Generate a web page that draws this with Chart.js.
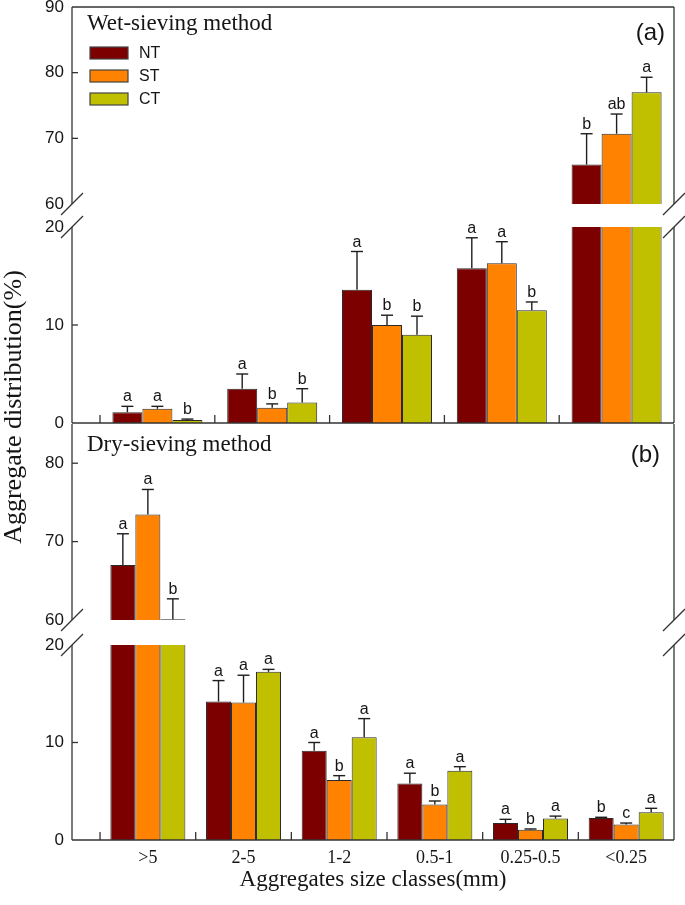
<!DOCTYPE html>
<html>
<head>
<meta charset="utf-8">
<title>Aggregate distribution</title>
<script src="https://cdn.jsdelivr.net/npm/chart.js@4.4.1/dist/chart.umd.min.js"></script>
<style>
  html, body { margin: 0; padding: 0; background: #fff; }
  #wrap { position: relative; width: 685px; height: 905px; overflow: hidden; background: #fff; }
  #wrap canvas { position: absolute; left: 0; top: 0; }
</style>
</head>
<body>
<div id="wrap">
  <canvas id="wet-top" width="685" height="905"></canvas>
  <canvas id="wet-low" width="685" height="905"></canvas>
  <canvas id="dry-top" width="685" height="905"></canvas>
  <canvas id="dry-low" width="685" height="905"></canvas>
</div>
<script>
// ============================================================
// Data
// ============================================================
const series = ['NT', 'ST', 'CT'];
const seriesColors = ['#7d0000', '#ff8200', '#c0c000'];

// (a) wet sieving, 5 size classes (axis carries no labels)
const wetClasses = ['>2', '1-2', '0.5-1', '0.25-0.5', '<0.25'];
const wetNT = [1.1, 3.5, 13.6, 15.8, 66.0];
const wetST = [1.45, 1.55, 10.0, 16.3, 70.7];
const wetCT = [0.3, 2.1, 9.0, 11.5, 77.0];
const wetNTsd = [0.6, 1.5, 3.9, 3.1, 4.7];
const wetSTsd = [0.25, 0.4, 1.0, 2.2, 3.0];
const wetCTsd = [0.1, 1.4, 1.9, 0.85, 2.3];
const wetNTsig = ['a', 'a', 'a', 'a', 'b'];
const wetSTsig = ['a', 'b', 'b', 'a', 'ab'];
const wetCTsig = ['b', 'b', 'b', 'b', 'a'];

// (b) dry sieving, 6 size classes
const dryClasses = ['>5', '2-5', '1-2', '0.5-1', '0.25-0.5', '<0.25'];
const dryNT = [67.0, 14.2, 9.15, 5.8, 1.75, 2.25];
const dryST = [73.45, 14.1, 6.15, 3.65, 1.05, 1.6];
const dryCT = [60.1, 17.25, 10.55, 7.1, 2.2, 2.85];
const dryNTsd = [4.0, 2.15, 0.85, 1.05, 0.37, 0.08];
const drySTsd = [3.2, 2.8, 0.45, 0.35, 0.08, 0.14];
const dryCTsd = [2.6, 0.25, 1.9, 0.42, 0.25, 0.4];
const dryNTsig = ['a', 'a', 'a', 'a', 'a', 'b'];
const drySTsig = ['a', 'a', 'b', 'b', 'b', 'c'];
const dryCTsig = ['b', 'a', 'a', 'a', 'a', 'a'];

// broken y axes: each panel has an upper and a lower segment
const wetUpperTicks = [60, 70, 80, 90];
const wetLowerTicks = [0, 10, 20];
const dryUpperTicks = [60, 70, 80];
const dryLowerTicks = [0, 10, 20];
const dryUpperMax = 85;

const yTitle = 'Aggregate distribution(%)';
const xTitle = 'Aggregates size classes(mm)';

// ============================================================
// Helpers
// ============================================================
const SERIF = '"Liberation Serif", "Times New Roman", serif';
const SANS = '"Liberation Sans", Arial, sans-serif';
const INK = '#151515';
const AXIS = '#333';

function line(ctx, x1, y1, x2, y2) {
  ctx.beginPath();
  ctx.moveTo(x1, y1);
  ctx.lineTo(x2, y2);
  ctx.stroke();
}

// ============================================================
// Plugin: error bars, letters, frame, breaks, extra text
// ============================================================
const segmentPlugin = {
  id: 'segment',
  afterDatasetsDraw(chart, args, o) {
    const ctx = chart.ctx;
    const a = chart.chartArea;
    const xs = chart.scales.x;
    const ys = chart.scales.y;
    ctx.save();

    // error bars (upper side only) + significance letters
    chart.data.datasets.forEach((ds, s) => {
      chart.getDatasetMeta(s).data.forEach((bar, i) => {
        const v = ds.data[i];
        const top = v + ds.sd[i];
        if (v < ys.min || top > ys.max) return;
        const py = ys.getPixelForValue(v);
        const pt = ys.getPixelForValue(top);
        ctx.strokeStyle = '#1e1e1e';
        ctx.lineWidth = 1.4;
        line(ctx, bar.x, py, bar.x, pt);
        line(ctx, bar.x - 6, pt, bar.x + 6, pt);
        ctx.fillStyle = INK;
        ctx.font = '16px ' + SANS;
        ctx.textAlign = 'center';
        ctx.textBaseline = 'alphabetic';
        ctx.fillText(ds.sig[i], bar.x, pt - 5);
      });
    });

    // frame
    ctx.strokeStyle = AXIS;
    ctx.lineWidth = 1.3;
    line(ctx, a.left, a.top, a.left, a.bottom);
    line(ctx, a.right, a.top, a.right, a.bottom);
    if (o.frameTop) line(ctx, a.left, a.top, a.right, a.top);
    if (o.frameBottom) {
      line(ctx, a.left, a.bottom, a.right, a.bottom);
      // inward ticks between size classes
      for (let i = 0; i < chart.data.labels.length; i++) {
        const px = xs.getPixelForValue(i - 0.5);
        line(ctx, px, a.bottom, px, a.bottom - 8);
      }
    }
    // inward y ticks
    ys.ticks.forEach(t => {
      if (t.value > ys.min && t.value < ys.max) {
        const py = ys.getPixelForValue(t.value);
        line(ctx, a.left, py, a.left + 6, py);
      }
    });
    // break marks
    const yb = o.breakAt === 'bottom' ? a.bottom : a.top;
    [a.left, a.right].forEach(xb => line(ctx, xb - 11, yb + 11, xb + 11, yb - 11));

    // legend
    if (o.legend) {
      chart.data.datasets.forEach((ds, s) => {
        const by = 47 + s * 23;
        ctx.fillStyle = ds.backgroundColor;
        ctx.fillRect(90, by, 38, 12);
        ctx.strokeStyle = '#444';
        ctx.lineWidth = 1.2;
        ctx.strokeRect(90, by, 38, 12);
        ctx.fillStyle = INK;
        ctx.font = '16px ' + SANS;
        ctx.textAlign = 'left';
        ctx.textBaseline = 'middle';
        ctx.fillText(ds.label, 139, by + 6.5);
      });
    }

    // free text
    (o.notes || []).forEach(n => {
      ctx.save();
      ctx.fillStyle = INK;
      ctx.font = n.font;
      ctx.textAlign = n.align || 'left';
      ctx.textBaseline = 'alphabetic';
      ctx.translate(n.x, n.y);
      if (n.rotate) ctx.rotate(n.rotate);
      ctx.fillText(n.text, 0, 0);
      ctx.restore();
    });

    ctx.restore();
  }
};

// ============================================================
// One chart per axis segment
// ============================================================
function makeSegment(id, o) {
  const showX = !!o.showX;
  const xAxisH = 54;
  return new Chart(document.getElementById(id), {
    type: 'bar',
    data: {
      labels: o.classes.map((_, i) => i),
      datasets: series.map((name, s) => ({
        label: name,
        data: o.values[s],
        sd: o.sd[s],
        sig: o.sig[s],
        backgroundColor: seriesColors[s],
        borderColor: '#2a2a2a',
        borderWidth: 1,
        borderSkipped: 'start',
        clip: 0,
        categoryPercentage: 0.784,
        barPercentage: 1
      }))
    },
    options: {
      responsive: false,
      animation: false,
      events: [],
      layout: {
        padding: { left: 0, right: 11, top: o.top, bottom: 905 - o.bottom - (showX ? xAxisH : 0) }
      },
      plugins: {
        legend: { display: false },
        tooltip: { enabled: false },
        segment: o.deco
      },
      scales: {
        x: {
          type: 'linear',
          bounds: 'data',
          offset: false,
          min: o.xMin,
          max: o.classes.length - 0.5,
          display: showX,
          afterBuildTicks: sc => { sc.ticks = o.classes.map((_, i) => ({ value: i })); },
          afterFit: sc => {
            if (showX) sc.height = xAxisH;
            sc.paddingLeft = 0;
            sc.paddingRight = 0;
          },
          grid: { display: false, drawTicks: false, offset: false },
          border: { display: false },
          ticks: {
            autoSkip: false,
            maxRotation: 0,
            minRotation: 0,
            padding: 7,
            color: INK,
            font: { family: SERIF, size: 18 },
            callback: v => o.classes[v] ?? ''
          },
          title: {
            display: showX,
            text: xTitle,
            padding: 0,
            color: INK,
            font: { family: SERIF, size: 23 }
          }
        },
        y: {
          type: 'linear',
          bounds: 'data',
          min: o.yMin,
          max: o.yMax,
          afterBuildTicks: sc => { sc.ticks = o.yTicks.map(v => ({ value: v })); },
          afterFit: sc => {
            sc.width = 72;
            sc.paddingTop = 0;
            sc.paddingBottom = 0;
          },
          grid: { display: false, drawTicks: false },
          border: { display: false },
          ticks: {
            padding: 8,
            color: INK,
            font: { family: SANS, size: 17 }
          }
        }
      }
    },
    plugins: [segmentPlugin]
  });
}

// (a) upper
makeSegment('wet-top', {
  classes: wetClasses, xMin: -0.744,
  values: [wetNT, wetST, wetCT], sd: [wetNTsd, wetSTsd, wetCTsd], sig: [wetNTsig, wetSTsig, wetCTsig],
  yMin: wetUpperTicks[0], yMax: wetUpperTicks[wetUpperTicks.length - 1], yTicks: wetUpperTicks,
  top: 7, bottom: 204,
  deco: {
    frameTop: true, breakAt: 'bottom', legend: true,
    notes: [
      { text: 'Wet-sieving method', x: 87, y: 30, font: '23px ' + SERIF },
      { text: '(a)', x: 665, y: 40, font: '24px ' + SANS, align: 'right' }
    ]
  }
});

// (a) lower
makeSegment('wet-low', {
  classes: wetClasses, xMin: -0.744,
  values: [wetNT, wetST, wetCT], sd: [wetNTsd, wetSTsd, wetCTsd], sig: [wetNTsig, wetSTsig, wetCTsig],
  yMin: wetLowerTicks[0], yMax: wetLowerTicks[wetLowerTicks.length - 1], yTicks: wetLowerTicks,
  top: 227, bottom: 423,
  deco: {
    frameBottom: true, breakAt: 'top',
    notes: [
      { text: yTitle, x: 21, y: 407, font: '26px ' + SERIF, align: 'center', rotate: -Math.PI / 2 }
    ]
  }
});

// (b) upper
makeSegment('dry-top', {
  classes: dryClasses, xMin: -0.793,
  values: [dryNT, dryST, dryCT], sd: [dryNTsd, drySTsd, dryCTsd], sig: [dryNTsig, drySTsig, dryCTsig],
  yMin: dryUpperTicks[0], yMax: dryUpperMax, yTicks: dryUpperTicks,
  top: 424, bottom: 620,
  deco: {
    breakAt: 'bottom',
    notes: [
      { text: 'Dry-sieving method', x: 87, y: 451, font: '23px ' + SERIF },
      { text: '(b)', x: 660, y: 462, font: '24px ' + SANS, align: 'right' }
    ]
  }
});

// (b) lower, carries the x axis
makeSegment('dry-low', {
  classes: dryClasses, xMin: -0.793, showX: true,
  values: [dryNT, dryST, dryCT], sd: [dryNTsd, drySTsd, dryCTsd], sig: [dryNTsig, drySTsig, dryCTsig],
  yMin: dryLowerTicks[0], yMax: dryLowerTicks[dryLowerTicks.length - 1], yTicks: dryLowerTicks,
  top: 645, bottom: 840,
  deco: { frameBottom: true, breakAt: 'top' }
});
</script>
</body>
</html>
